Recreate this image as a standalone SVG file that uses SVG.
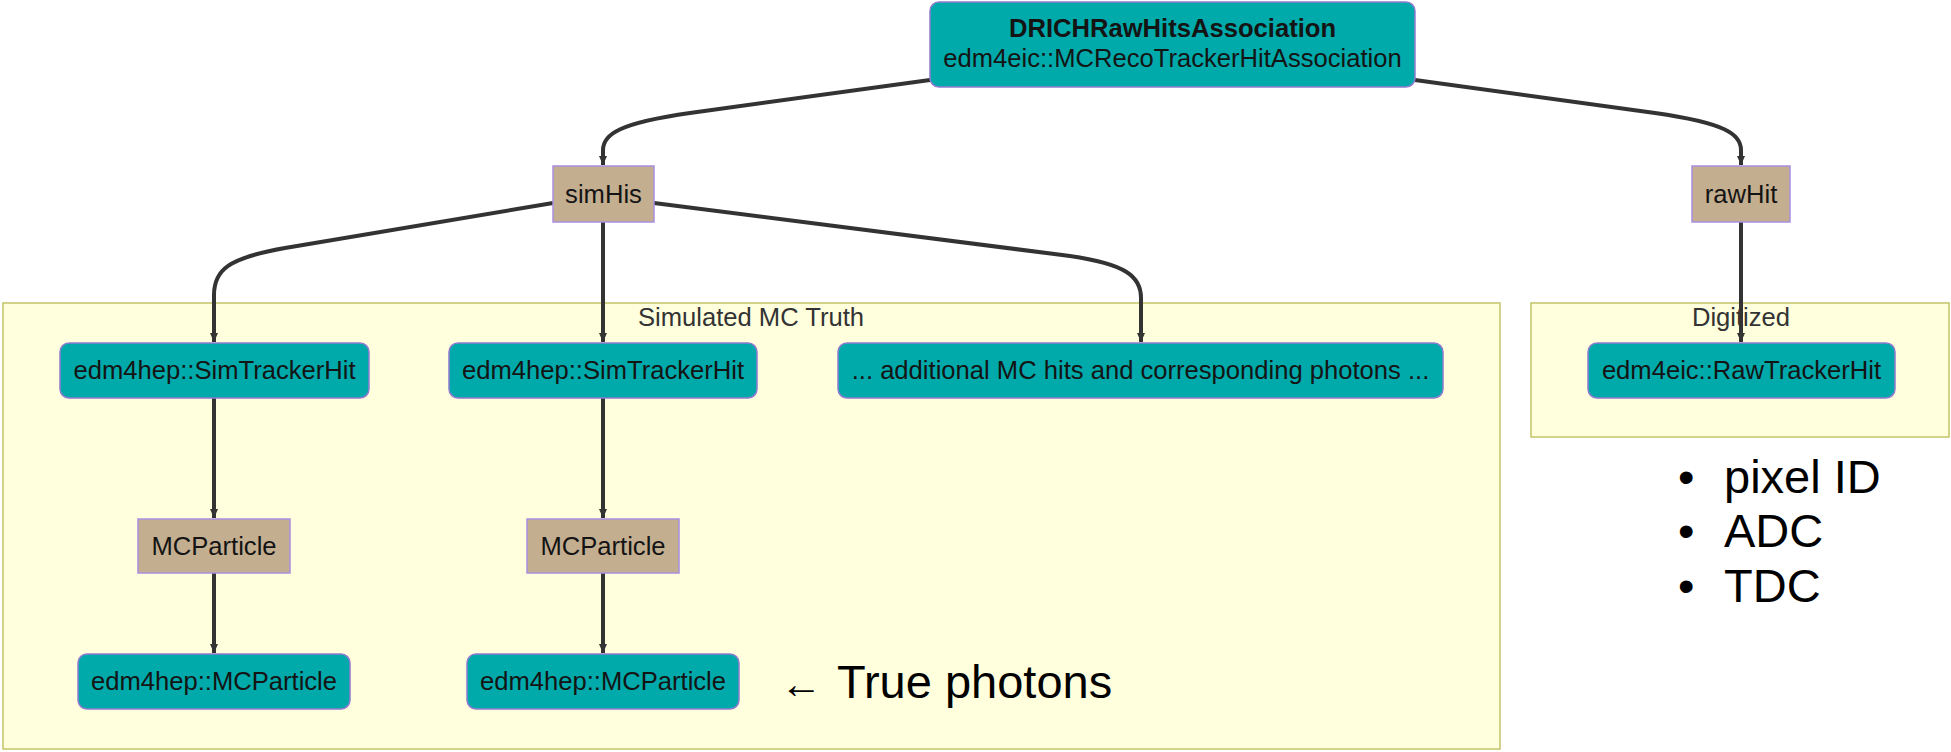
<svg xmlns="http://www.w3.org/2000/svg" width="1951" height="752" viewBox="0 0 1951 752">
  <defs>
    <style>
      .bg { fill: #ffffff; }
      .cluster rect { fill: #ffffde; stroke: #c4c46a; stroke-width: 1.5; }
      .cluster text { font-family: "Liberation Sans", Arial, sans-serif; font-size: 25.6px; fill: #333333; text-anchor: middle; }
      .type rect { fill: #00a9aa; stroke: #8f7bd0; stroke-width: 1.5; }
      .field rect { fill: #c4ae90; stroke: #a98ee0; stroke-width: 1.5; }
      .node text { font-family: "Liberation Sans", Arial, sans-serif; font-size: 25.6px; fill: #141414; text-anchor: middle; }
      .node text.bold { font-weight: bold; }
      .edge { fill: none; stroke: #333333; stroke-width: 4; marker-end: url(#arrow); }
      .note { font-family: "Liberation Sans", Arial, sans-serif; font-size: 47px; fill: #000000; }
    </style>
    <marker id="arrow" markerUnits="userSpaceOnUse" markerWidth="10" markerHeight="10" refX="9" refY="5" orient="auto">
      <path d="M0,1 L9,5 L0,9 z" fill="#333333"/>
    </marker>
  </defs>

  <rect class="bg" x="0" y="0" width="1951" height="752"/>

  <!-- clusters -->
  <g id="cluster-sim" class="cluster">
    <rect x="3" y="303" width="1497" height="446"/>
    <text x="751" y="326">Simulated MC Truth</text>
  </g>
  <g id="cluster-digi" class="cluster">
    <rect x="1531" y="303" width="418" height="134"/>
    <text x="1741" y="326">Digitized</text>
  </g>

  <!-- connectors -->
  <g id="connectors">
    <path class="edge" d="M930,80 L690,113 C620,123 603,134 603,150 L603,165"/>
    <path class="edge" d="M1415,80 L1655,113 C1725,123 1741,134 1741,150 L1741,165"/>
    <path class="edge" d="M553,203 L285,248 C228,258 214,270 214,295 L214,342"/>
    <path class="edge" d="M654,203 L1070,256 C1125,264 1141,276 1141,298 L1141,342"/>
    <path class="edge" d="M603,222 L603,342"/>
    <path class="edge" d="M1741,222 L1741,342"/>
    <path class="edge" d="M214,398 L214,518"/>
    <path class="edge" d="M214,573 L214,653"/>
    <path class="edge" d="M603,398 L603,518"/>
    <path class="edge" d="M603,573 L603,653"/>
  </g>

  <!-- nodes -->
  <g id="node-association" class="node type">
    <rect x="930" y="2" width="485" height="85" rx="9"/>
    <text class="bold" x="1172.5" y="37">DRICHRawHitsAssociation</text>
    <text x="1172.5" y="67">edm4eic::MCRecoTrackerHitAssociation</text>
  </g>
  <g id="node-simHis" class="node field">
    <rect x="553" y="166" width="101" height="56"/>
    <text x="603.5" y="203">simHis</text>
  </g>
  <g id="node-rawHit" class="node field">
    <rect x="1692" y="166" width="98" height="56"/>
    <text x="1741" y="203">rawHit</text>
  </g>
  <g id="node-simhit1" class="node type">
    <rect x="60" y="343" width="309" height="55" rx="9"/>
    <text x="214.5" y="379">edm4hep::SimTrackerHit</text>
  </g>
  <g id="node-simhit2" class="node type">
    <rect x="449" y="343" width="308" height="55" rx="9"/>
    <text x="603" y="379">edm4hep::SimTrackerHit</text>
  </g>
  <g id="node-more" class="node type">
    <rect x="838" y="343" width="605" height="55" rx="9"/>
    <text x="1140.5" y="379">... additional MC hits and corresponding photons ...</text>
  </g>
  <g id="node-rawtrackerhit" class="node type">
    <rect x="1588" y="343" width="307" height="55" rx="9"/>
    <text x="1741.5" y="379">edm4eic::RawTrackerHit</text>
  </g>
  <g id="node-mcp1" class="node field">
    <rect x="138" y="519" width="152" height="54"/>
    <text x="214" y="555">MCParticle</text>
  </g>
  <g id="node-mcp2" class="node field">
    <rect x="527" y="519" width="152" height="54"/>
    <text x="603" y="555">MCParticle</text>
  </g>
  <g id="node-particle1" class="node type">
    <rect x="78" y="654" width="272" height="55" rx="9"/>
    <text x="214" y="690">edm4hep::MCParticle</text>
  </g>
  <g id="node-particle2" class="node type">
    <rect x="467" y="654" width="272" height="55" rx="9"/>
    <text x="603" y="690">edm4hep::MCParticle</text>
  </g>

  <!-- annotations -->
  <text class="note" y="698"><tspan x="780" font-size="42">←</tspan><tspan x="837">True photons</tspan></text>
  <g id="digitized-fields" class="note">
    <text x="1678" y="493">•</text><text x="1724" y="493">pixel ID</text>
    <text x="1678" y="547">•</text><text x="1724" y="547">ADC</text>
    <text x="1678" y="602">•</text><text x="1724" y="602">TDC</text>
  </g>
</svg>
